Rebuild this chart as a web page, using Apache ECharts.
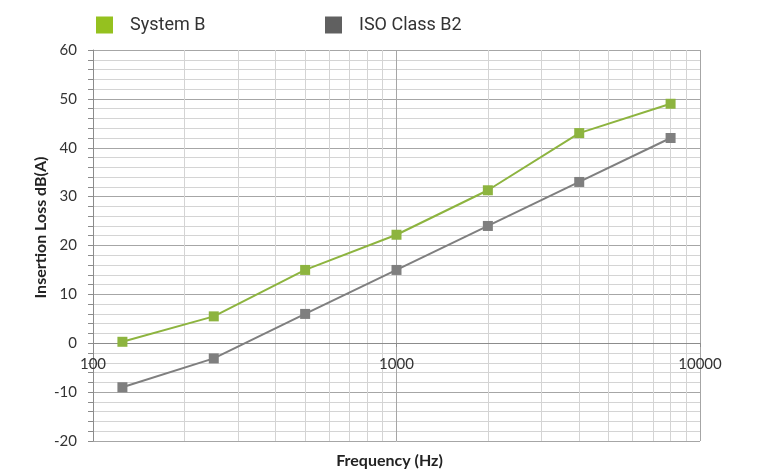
<!DOCTYPE html>
<html>
<head>
<meta charset="utf-8">
<script src="https://cdn.jsdelivr.net/npm/echarts@6/dist/echarts.min.js"></script>
<style>html,body{margin:0;padding:0;background:#fff}#c{width:764px;height:473px}</style>
</head>
<body>
<div id="c"></div>
<script>
var frequencies = [125, 250, 500, 1000, 2000, 4000, 8000];
var systemB = [0.3, 5.5, 15, 22.2, 31.3, 43, 49];
var isoClassB2 = [-9, -3.1, 6, 15, 24, 33, 42];
var minorFreqs = [200, 300, 400, 500, 600, 700, 800, 900, 2000, 3000, 4000, 5000, 6000, 7000, 8000, 9000];
var seriesNames = ['System B', 'ISO Class B2'];

var chart = echarts.init(document.getElementById('c'), null, {renderer: 'canvas'});
var axisFont = 'Lato, "Liberation Sans", sans-serif';
var option = {
  animation: false,
  legend: [
    {left: 91, top: 11, itemWidth: 17, itemHeight: 17, icon: 'rect',
     textStyle: {fontFamily: 'Roboto, sans-serif', fontSize: 18, color: '#333', padding: [0, 0, 0, 12]},
     data: [{name: seriesNames[0], itemStyle: {color: '#95c11f'}}]},
    {left: 320, top: 11, itemWidth: 17, itemHeight: 17, icon: 'rect',
     textStyle: {fontFamily: 'Roboto, sans-serif', fontSize: 18, color: '#333', padding: [0, 0, 0, 12]},
     data: [{name: seriesNames[1], itemStyle: {color: '#606060'}}]}
  ],
  grid: {left: 93, right: 64, top: 50, bottom: 32, containLabel: false, outerBoundsMode: 'none'},
  xAxis: {
    type: 'log', logBase: 10, min: 100, max: 10000,
    offset: -98,
    name: 'Frequency (Hz)', nameLocation: 'middle', nameGap: 110, nameMoveOverlap: false,
    nameTextStyle: {fontFamily: axisFont, fontSize: 16, fontWeight: 'bold', color: '#222', padding: [0, 14, 0, 0]},
    axisLine: {onZero: false, lineStyle: {color: '#8c8c8c', width: 1}},
    axisTick: {show: true, length: 4, lineStyle: {color: '#8c8c8c'}},
    axisLabel: {margin: 14, fontFamily: axisFont, fontSize: 15, color: '#333',
      formatter: function (v) { return String(v); }},
    splitLine: {show: true, lineStyle: {color: '#a6a6a6', width: 1}}
  },
  yAxis: {
    type: 'value', min: -20, max: 60, interval: 10,
    name: 'Insertion Loss dB(A)', nameLocation: 'middle', nameGap: 44, nameMoveOverlap: false,
    nameTextStyle: {fontFamily: axisFont, fontSize: 16, fontWeight: 'bold', color: '#222', padding: [0, 0, 0, 36]},
    axisLine: {show: true, lineStyle: {color: '#8c8c8c'}},
    axisTick: {show: true, length: 5, lineStyle: {color: '#8c8c8c'}},
    minorTick: {show: true, splitNumber: 5, length: 5, lineStyle: {color: '#8c8c8c'}},
    axisLabel: {margin: 16, fontFamily: axisFont, fontSize: 15, color: '#333'},
    splitLine: {show: true, lineStyle: {color: '#a6a6a6', width: 1}},
    minorSplitLine: {show: true, lineStyle: {color: '#d4d4d4', width: 1}}
  },
  series: [
    {
      name: 'minorgrid', type: 'line', data: [], silent: true, z: 0,
      markLine: {
        silent: true, z: 0, symbol: ['none', 'none'], label: {show: false},
        lineStyle: {color: '#d4d4d4', type: 'solid', width: 1},
        data: minorFreqs.map(function (f) { return {xAxis: f}; })
      }
    },
    {
      name: seriesNames[0], type: 'line', z: 5,
      data: frequencies.map(function (f, i) { return [f, systemB[i]]; }),
      symbol: 'rect', symbolSize: 10,
      lineStyle: {color: '#8db43f', width: 2},
      itemStyle: {color: '#8db43f'}
    },
    {
      name: seriesNames[1], type: 'line', z: 5,
      data: frequencies.map(function (f, i) { return [f, isoClassB2[i]]; }),
      symbol: 'rect', symbolSize: 10,
      lineStyle: {color: '#7f7f7f', width: 2},
      itemStyle: {color: '#7f7f7f'}
    }
  ]
};
chart.setOption(option);
</script>
</body>
</html>
